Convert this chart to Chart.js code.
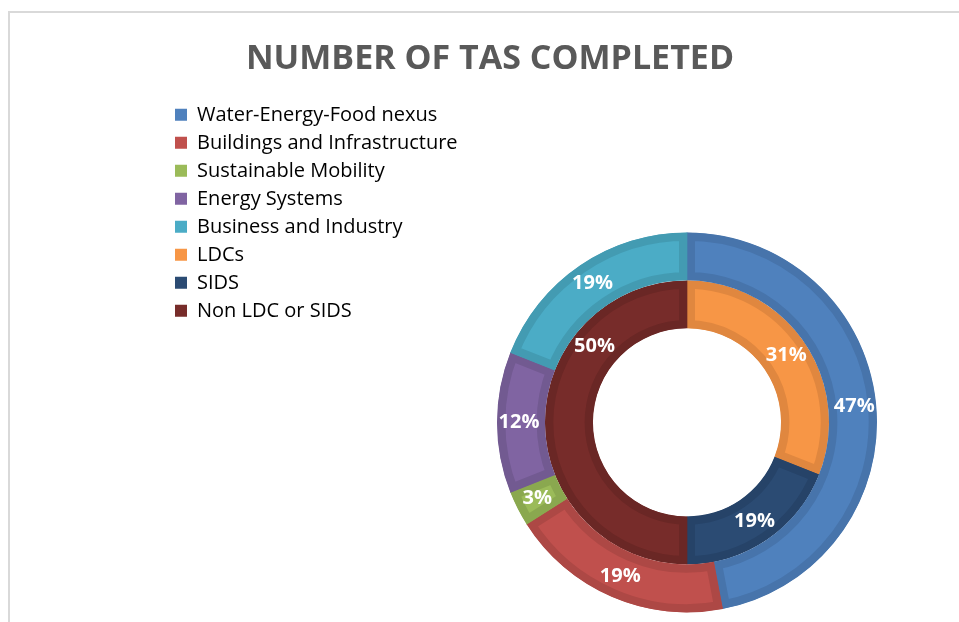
<!DOCTYPE html>
<html>
<head>
<meta charset="utf-8">
<script src="https://cdn.jsdelivr.net/npm/chart.js@4"></script>
<style>
  html, body { margin: 0; padding: 0; background: #fff; overflow: hidden; }
  #frame { position: absolute; left: 8px; top: 11px; right: -10px; bottom: -10px;
           border-top: 2px solid #d9d9d9; border-left: 2px solid #d9d9d9; }
  #wrap { position: absolute; left: 0; top: 0; width: 959px; height: 748px; }
</style>
</head>
<body>
<div id="frame"></div>
<div id="wrap"><canvas id="tas"></canvas></div>
<script>
const topics = ['Water-Energy-Food nexus', 'Buildings and Infrastructure', 'Sustainable Mobility', 'Energy Systems', 'Business and Industry']
const topicPct = [47, 19, 3, 12, 19]
const groups = ['LDCs', 'SIDS', 'Non LDC or SIDS']
const groupPct = [31, 19, 50]

const topicColors = ['#4f81bd', '#c0504d', '#9bbb59', '#8064a2', '#4bacc6']
const topicBorders = ['#4774ab', '#ad4845', '#8aa84f', '#725a91', '#439bb2']
const groupColors = ['#f79646', '#2b4b73', '#772c2a']
const groupBorders = ['#e0873f', '#264368', '#6a2725']

Chart.defaults.font.family = "'Open Sans', sans-serif"
Chart.defaults.color = '#595959'

// percent labels in the middle of each ring piece
const pctLabels = {
  id: 'pctLabels',
  afterDatasetsDraw(chart, args, opts) {
    const ctx = chart.ctx
    ctx.save()
    ctx.font = 'bold 20px "Open Sans", sans-serif'
    ctx.fillStyle = '#fff'
    ctx.textAlign = 'center'
    ctx.textBaseline = 'middle'
    chart.data.datasets.forEach((ds, di) => {
      chart.getDatasetMeta(di).data.forEach((arc, i) => {
        const p = arc.getProps(['x', 'y', 'startAngle', 'endAngle', 'innerRadius', 'outerRadius'], true)
        let f = 0.5
        ;(opts.shift || []).forEach(s => { if (s.dataset === di && s.index === i) f = s.at })
        const a = p.startAngle + (p.endAngle - p.startAngle) * f
        const r = (p.innerRadius + p.outerRadius) / 2 + 2
        ctx.fillText(ds.data[i] + '%', p.x + Math.cos(a) * r, p.y + Math.sin(a) * r)
      })
    })
    ctx.restore()
  }
}

// the title is centred on the whole frame, the rings sit to the right of the legend
const placeArea = {
  id: 'placeArea',
  afterLayout(chart, args, opts) {
    const a = chart.chartArea
    const w = opts.width
    a.left = opts.centerX - w / 2
    a.right = opts.centerX + w / 2
    a.width = w
  }
}

new Chart(document.getElementById('tas'), {
  type: 'doughnut',
  data: {
    labels: topics,
    datasets: [{
      data: topicPct,
      backgroundColor: topicColors,
      borderColor: topicBorders,
      borderWidth: 8,
      borderAlign: 'inner'
    }, {
      data: groupPct,
      backgroundColor: groupColors,
      borderColor: groupBorders,
      borderWidth: 8,
      borderAlign: 'inner'
    }]
  },
  options: {
    responsive: true,
    maintainAspectRatio: false,
    animation: false,
    radius: 190,
    cutout: '49.5%',
    layout: { padding: { left: 167, right: 146, top: 0, bottom: 0 } },
    plugins: {
      tooltip: { enabled: false },
      title: {
        display: true,
        text: 'NUMBER OF TAS COMPLETED',
        color: '#595959',
        font: { size: 34, weight: 'bold' },
        padding: { top: 39, bottom: 17 }
      },
      legend: {
        position: 'left',
        align: 'start',
        fullSize: false,
        onClick: null,
        labels: {
          boxWidth: 12,
          boxHeight: 12,
          padding: 8,
          color: '#595959',
          font: { size: 20 },
          generateLabels() {
            const a = topics.map((t, i) => ({ text: t, fillStyle: topicColors[i], strokeStyle: topicColors[i], lineWidth: 0 }))
            const b = groups.map((t, i) => ({ text: t, fillStyle: groupColors[i], strokeStyle: groupColors[i], lineWidth: 0 }))
            return a.concat(b)
          }
        }
      },
      placeArea: { centerX: 687, width: 400 },
      pctLabels: { shift: [{ dataset: 1, index: 2, at: 0.72 }] }
    }
  },
  plugins: [placeArea, pctLabels]
});
</script>
</body>
</html>
